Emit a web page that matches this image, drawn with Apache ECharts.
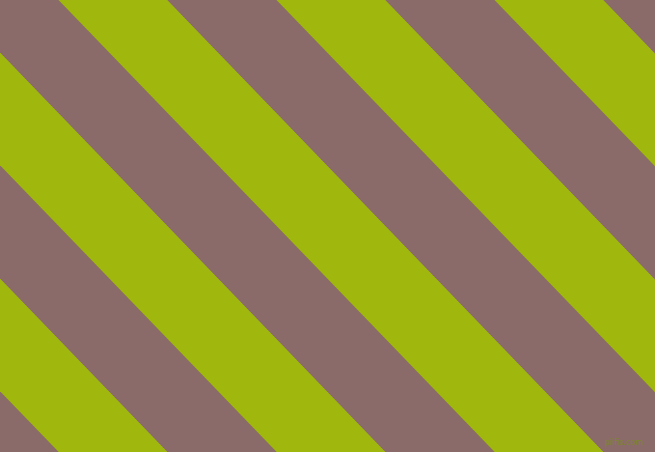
<!DOCTYPE html>
<html>
<head>
<meta charset="utf-8">
<script src="https://cdn.jsdelivr.net/npm/echarts@6/dist/echarts.min.js"></script>
<style>html,body{margin:0;padding:0;background:#8a6b6a;}#c{width:655px;height:452px;}</style>
</head>
<body>
<div id="c"></div>
<script>
// Stripe left edges measured along the top edge (x in px units of the value axis)
var stripeStarts = [-486.5, -377.5, -268.5, -159.5, -50.5, 58.5, 167.5, 276.5, 385.5, 494.5, 603.5];
var stripeColors = ['#8a6b6a', '#a0b70d'];
var stripeWidth = 109;
var shiftAtBottom = 436.2; // horizontal drift of a stripe between top and bottom
var watermark = 'pilfis.com';

var data = stripeStarts.map(function (s, i) { return [s, i % 2]; });

var chart = echarts.init(document.getElementById('c'), null, {renderer: 'canvas'});
chart.setOption({
  backgroundColor: '#8a6b6a',
  animation: false,
  grid: {left: 0, right: 0, top: 0, bottom: 0},
  xAxis: {type: 'value', min: 0, max: 655, show: false},
  yAxis: {type: 'value', min: 0, max: 452, inverse: true, show: false},
  title: {
    text: watermark, right: 7, bottom: 0,
    textStyle: {fontSize: 8, fontWeight: 'normal', color: 'rgba(125,140,35,0.8)', fontFamily: 'DejaVu Sans'}
  },
  series: [{
    type: 'custom',
    clip: true,
    data: data,
    renderItem: function (params, api) {
      var s = api.value(0);
      var c = api.value(1);
      var p1 = api.coord([s, 0]);
      var p2 = api.coord([s + stripeWidth, 0]);
      var p3 = api.coord([s + stripeWidth + shiftAtBottom, 452]);
      var p4 = api.coord([s + shiftAtBottom, 452]);
      return {
        type: 'polygon',
        shape: {points: [p1, p2, p3, p4]},
        style: {fill: stripeColors[c]}
      };
    }
  }]
});
</script>
</body>
</html>
